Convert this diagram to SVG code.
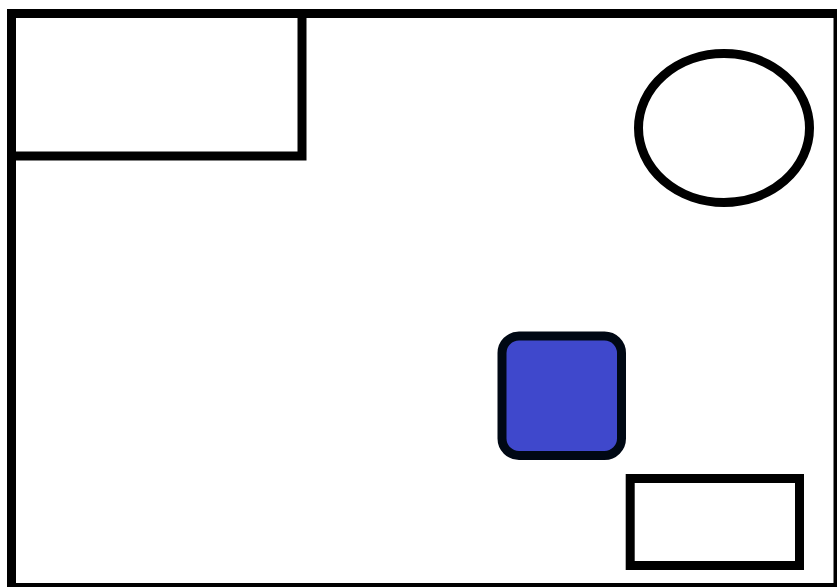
<svg xmlns="http://www.w3.org/2000/svg" width="837" height="587" viewBox="0 0 837 587">
<style>
.s{fill:#ffffff;stroke:#000000;stroke-width:9}
.b{fill:#3f48cc;stroke:#000814;stroke-width:9}
</style>
<rect width="837" height="587" fill="#ffffff"/>
<g id="frame"><rect class="s" x="11.5" y="13.5" width="826.5" height="574"/></g>
<g id="topleft-box"><rect class="s" x="11.5" y="13.5" width="290.5" height="142.5"/></g>
<g id="circle"><ellipse class="s" cx="724" cy="128" rx="85.5" ry="74.5" stroke-width="8"/></g>
<g id="blue-square"><rect class="b" x="502" y="336" width="119.5" height="119.5" rx="17"/></g>
<g id="bottom-box"><rect class="s" x="630.2" y="478.5" width="169.3" height="87"/></g>
<g id="connectors"></g>
</svg>
